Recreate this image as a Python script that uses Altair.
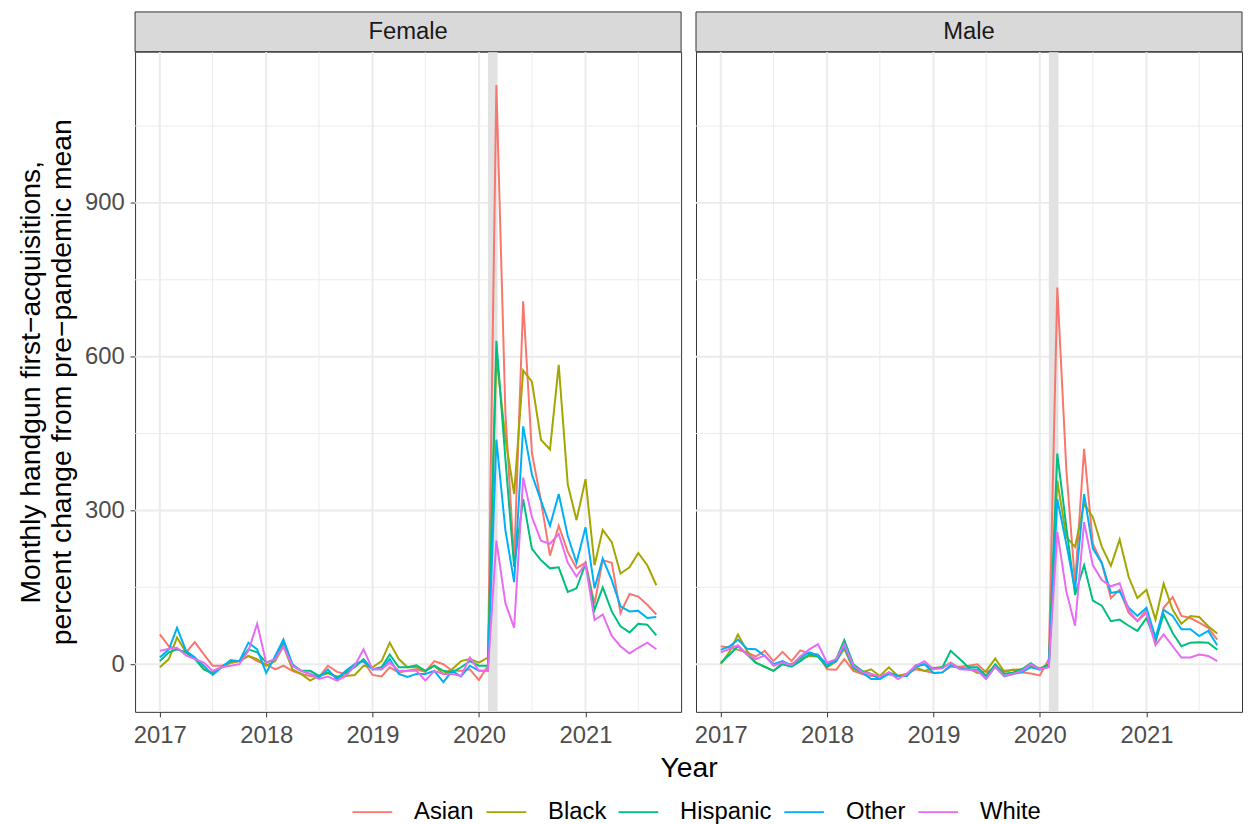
import altair as alt
import pandas as pd

# ---------------- data ----------------
months = pd.date_range("2017-01-01", "2021-09-01", freq="MS").strftime("%Y-%m-%d").tolist()
races = ["Asian", "Black", "Hispanic", "Other", "White"]
colors = ["#F8766D", "#A3A500", "#00BF7D", "#00B0F6", "#E76BF3"]
sexes = ["Female", "Male"]

female_asian = [58, 35, 29, 23, 43, 19, -3, -3, 3, 6, 16, 6,
                0, -10, -3, -13, -19, -23, -25, -3, -15, -19, 0, 6,
                -21, -24, -6, -16, -13, -10, -15, 6, 0, -13, -13, -10,
                -31, -3, 1130, 490, 200, 708, 412, 319, 212, 270, 219, 187,
                198, 118, 203, 198, 100, 137, 132, 116, 97]
female_black = [-6, 10, 52, 23, 13, -10, -16, -6, 3, 6, 16, 10,
                -3, 6, 35, -10, -19, -32, -23, -18, -24, -23, -21, -3,
                -6, 6, 42, 10, -6, -6, -13, -3, -19, -10, 6, 10,
                3, 13, 600, 441, 332, 573, 551, 438, 419, 584, 351, 281,
                361, 193, 262, 238, 177, 189, 217, 193, 154]
female_hispanic = [6, 23, 29, 23, 10, -10, -19, -6, 6, 6, 29, 23,
                   3, 10, 42, -3, -13, -13, -23, -16, -26, -16, -6, 10,
                   -10, -6, 19, -6, -6, -2, -13, -3, -13, -16, -6, 6,
                   -3, -3, 631, 400, 190, 322, 225, 203, 187, 189, 141, 148,
                   196, 106, 150, 103, 74, 62, 79, 77, 56]
female_other = [13, 29, 71, 26, 13, -3, -21, -6, 8, 6, 42, 29,
                -17, 16, 48, 0, -13, -19, -26, -10, -30, -13, 0, 6,
                -10, -10, 10, -19, -25, -19, -19, -13, -35, -13, -24, -3,
                -13, -13, 438, 261, 160, 464, 370, 319, 270, 332, 250, 198,
                267, 148, 206, 164, 113, 103, 104, 90, 92]
female_white = [26, 30, 32, 17, 10, 3, -13, -6, -3, 0, 26, 79,
                3, 10, 35, -3, -13, -19, -29, -24, -32, -23, -3, 29,
                -10, -10, 3, -13, -13, -13, -32, -13, -19, -19, -23, 13,
                -13, -13, 241, 119, 71, 364, 287, 241, 235, 254, 198, 171,
                196, 86, 97, 55, 35, 21, 32, 42, 29]

male_asian = [35, 32, 28, 23, 15, 26, 6, 24, 6, 27, 21, 19,
              -10, -11, 10, -13, -19, -23, -23, -19, -23, -19, -10, -13,
              -17, -16, -5, -5, -3, 0, -16, -6, -13, -11, -16, -18,
              -22, 10, 735, 380, 158, 420, 235, 197, 129, 145, 100, 84,
              106, 42, 110, 131, 94, 90, 81, 71, 48]
male_black = [0, 25, 58, 26, 3, -5, -13, 2, 0, 10, 16, 15,
              -6, 5, 30, -10, -16, -10, -23, -6, -23, -19, -6, -13,
              -8, -6, 3, -8, -8, -17, -13, 11, -15, -11, -10, -3,
              -8, 0, 358, 248, 229, 313, 287, 229, 192, 243, 170, 129,
              145, 87, 157, 106, 79, 94, 92, 74, 60]
male_hispanic = [3, 19, 35, 19, 3, -5, -13, 0, -5, 6, 19, 15,
                 -5, 10, 47, 0, -13, -19, -29, -16, -23, -23, -2, 0,
                 -8, -6, 26, 10, -6, -6, -23, 0, -19, -16, -10, 2,
                 -10, 0, 411, 268, 135, 193, 124, 114, 84, 87, 75, 65,
                 90, 45, 97, 61, 35, 42, 43, 42, 28]
male_other = [28, 35, 48, 30, 29, 16, 0, 6, -3, 13, 23, 17,
              0, 6, 35, -6, -16, -29, -29, -19, -23, -23, -5, 0,
              -17, -16, -2, -8, -10, -11, -28, -5, -24, -19, -16, -6,
              -11, -5, 322, 235, 145, 332, 226, 197, 139, 142, 110, 94,
              110, 52, 106, 94, 68, 68, 55, 65, 37]
male_white = [23, 30, 37, 19, 10, 17, -3, 3, -2, 15, 29, 39,
              3, 10, 39, -3, -15, -19, -24, -16, -29, -19, -3, 6,
              -10, -8, 3, -10, -11, -13, -29, -5, -23, -19, -13, 0,
              -10, -6, 258, 142, 75, 277, 193, 164, 152, 158, 105, 84,
              100, 37, 58, 35, 13, 13, 19, 16, 6]

series = {
    "Female": [female_asian, female_black, female_hispanic, female_other, female_white],
    "Male": [male_asian, male_black, male_hispanic, male_other, male_white],
}

year_ticks = [2017, 2018, 2019, 2020, 2021]
x_minor = ["2017-07-01", "2018-07-01", "2019-07-01", "2020-07-01", "2021-07-01"]
x_major = ["2017-01-01", "2018-01-01", "2019-01-01", "2020-01-01", "2021-01-01"]
y_major = [0, 300, 600, 900]
y_minor = [150, 450, 750, 1050]
band_start = ["2020-02-01"]
band_end = ["2020-03-05"]

y_title = ["Monthly handgun first\u2212acquisitions,", "percent change from pre\u2212pandemic mean"]

rows = []
for sex in sexes:
    for race, vals in zip(races, series[sex]):
        for d, v in zip(months, vals):
            rows.append({"sex": sex, "race": race, "date": d, "value": v})
df = pd.DataFrame(rows)

# ---------------- layout ----------------
W, H, SH, GAP = 550, 665, 40, 15
FONT = "Liberation Sans"
TXT = 24
TTL = 28.5

xscale = alt.Scale(type="utc", domain=[alt.DateTime(year=2016, month=10, date=8, utc=True),
                                       alt.DateTime(year=2021, month=11, date=25, utc=True)])
yscale = alt.Scale(domain=[-93, 1195], nice=False, zero=False)

legend = alt.Legend(orient="none", direction="horizontal", legendX=218, legendY=745,
                    title=None, symbolType="stroke", symbolSize=1600, symbolStrokeWidth=2,
                    labelFontSize=TXT, labelColor="black", labelOffset=21, columnPadding=8,
                    labelFont=FONT)
cscale = alt.Scale(domain=races, range=colors)


def x_axis(show_title):
    kw = dict(values=[alt.DateTime(year=y, month=1, date=1, utc=True) for y in year_ticks],
              format="%Y", grid=False, domain=False, tickSize=5, tickColor="#333333",
              labelColor="#4D4D4D", labelFontSize=TXT, labelPadding=7, labelFont=FONT)
    if show_title:
        kw.update(title="Year", titleFontSize=TTL, titleFontWeight="normal", titleColor="black",
                  titleX=(2 * W + GAP) / 2, titlePadding=6, titleFont=FONT)
    else:
        kw.update(title=None)
    return alt.Axis(**kw)


def y_axis(show):
    if not show:
        return None
    return alt.Axis(values=y_major, grid=False, domain=False, tickSize=5, tickColor="#333333",
                    labelColor="#4D4D4D", labelFontSize=TXT, labelPadding=6, labelFont=FONT,
                    title=y_title, titleFontSize=TTL, titleFontWeight="normal", titleColor="black",
                    titlePadding=8, titleLineHeight=31, titleFont=FONT)


def panel(sex, first):
    xa = x_axis(first)
    ya = y_axis(first)
    X = lambda f: alt.X(f, type="temporal", scale=xscale, axis=xa)
    Y = lambda f: alt.Y(f, type="quantitative", scale=yscale, axis=ya)

    vmaj = alt.Chart(pd.DataFrame({"date": x_major})).mark_rule(color="#EBEBEB", strokeWidth=2).encode(x=X("date"))
    vmin = alt.Chart(pd.DataFrame({"date": x_minor})).mark_rule(color="#EBEBEB", strokeWidth=1).encode(x=X("date"))
    hmaj = alt.Chart(pd.DataFrame({"value": y_major})).mark_rule(color="#EBEBEB", strokeWidth=2).encode(y=Y("value"))
    hmin = alt.Chart(pd.DataFrame({"value": y_minor})).mark_rule(color="#EBEBEB", strokeWidth=1).encode(y=Y("value"))
    band = alt.Chart(pd.DataFrame({"date": band_start, "end": band_end})).mark_rect(
        color="#E2E2E2").encode(x=X("date"), x2="end:T", y=alt.value(0), y2=alt.value(H))
    lines = alt.Chart(df[df["sex"] == sex]).mark_line(strokeWidth=2, clip=True).encode(
        x=X("date"), y=Y("value"),
        color=alt.Color("race:N", scale=cscale, legend=legend),
    )
    strip_df = pd.DataFrame({"sex": [sex]})
    strip_box = alt.Chart(strip_df).mark_rect(fill="#D9D9D9", stroke="#333333", strokeWidth=1).encode(
        x=alt.value(0), x2=alt.value(W), y=alt.value(-SH), y2=alt.value(0))
    strip_txt = alt.Chart(strip_df).mark_text(fontSize=TXT, color="#1A1A1A", font=FONT).encode(
        text="sex:N", x=alt.value(W / 2), y=alt.value(-SH / 2))
    return alt.layer(vmin, hmin, vmaj, hmaj, band, lines, strip_box, strip_txt).properties(
        width=W, height=H, view=alt.ViewBackground(fill="white", stroke="#333333", strokeWidth=1))


chart = alt.hconcat(panel("Female", True), panel("Male", False), spacing=GAP, bounds="flush").resolve_scale(
    color="shared").properties(padding={"left": 8, "top": 0, "right": 0, "bottom": 0}).configure(font=FONT)

chart.save("out.html", embed_options={"renderer": "svg", "actions": False})
